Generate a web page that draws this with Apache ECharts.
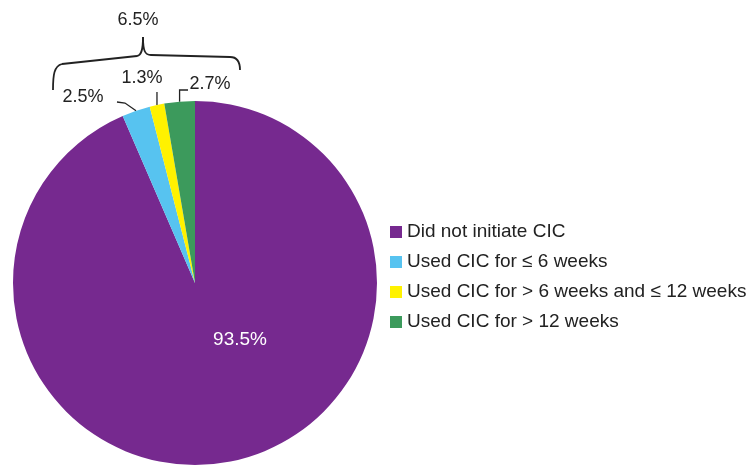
<!DOCTYPE html>
<html>
<head>
<meta charset="utf-8">
<script src="https://cdn.jsdelivr.net/npm/echarts@6/dist/echarts.min.js"></script>
<style>
  html, body { margin: 0; padding: 0; background: #fff; }
  #chart { width: 749px; height: 466px; }
</style>
</head>
<body>
<div id="chart"></div>
<script>
// Share of patients by CIC use
const categories = [
  'Did not initiate CIC',
  'Used CIC for ≤ 6 weeks',
  'Used CIC for > 6 weeks and ≤ 12 weeks',
  'Used CIC for > 12 weeks'
];
const shares = [93.5, 2.5, 1.3, 2.7];
const colors = ['#76298F', '#57C3F0', '#FFF200', '#3C9A5C'];

// Combined share of everyone who used CIC
const usedTotal = shares.slice(1).reduce((a, b) => a + b, 0);

const CX = 195, CY = 283, R = 182;
const FONT = 'Liberation Sans, Arial, sans-serif';
const INK = '#222';

// Point on the pie rim at the middle of slice i (clockwise from 12 o'clock)
const total = shares.reduce((a, b) => a + b, 0);
function rimPoint(i) {
  const before = shares.slice(0, i).reduce((a, b) => a + b, 0);
  const ang = (before + shares[i] / 2) / total * 2 * Math.PI;
  return [CX + R * Math.sin(ang), CY - R * Math.cos(ang)];
}

// Where each percentage label sits
const labelSpots = [[240, 340], [83, 97], [142, 78], [210, 84]];

const p1 = rimPoint(1), p2 = rimPoint(2), p3 = rimPoint(3);
const leaderStyle = { stroke: INK, lineWidth: 1.3, fill: null };
const braceStyle = { stroke: INK, lineWidth: 1.8, fill: null };

function curve(x1, y1, cpx1, cpy1, cpx2, cpy2, x2, y2) {
  return { type: 'bezierCurve', shape: { x1, y1, cpx1, cpy1, cpx2, cpy2, x2, y2 }, style: braceStyle, silent: true };
}
function seg(x1, y1, x2, y2) {
  return { type: 'line', shape: { x1, y1, x2, y2 }, style: braceStyle, silent: true };
}

const chart = echarts.init(document.getElementById('chart'));
chart.setOption({
  animation: false,
  color: colors,
  legend: {
    orient: 'vertical',
    left: 385,
    top: 217,
    itemWidth: 12,
    itemHeight: 12,
    itemGap: 10,
    icon: 'rect',
    textStyle: { fontFamily: FONT, fontSize: 19, color: INK, lineHeight: 20 },
    data: categories
  },
  series: [{
    type: 'pie',
    center: [CX, CY],
    radius: R,
    startAngle: 90,
    clockwise: true,
    avoidLabelOverlap: false,
    itemStyle: { borderWidth: 0 },
    emphasis: { disabled: true },
    label: {
      show: true,
      formatter: p => p.value.toFixed(1) + '%',
      fontFamily: FONT,
      fontSize: 18,
      color: INK
    },
    labelLine: { show: false },
    labelLayout: p => ({
      x: labelSpots[p.dataIndex][0],
      y: labelSpots[p.dataIndex][1],
      align: 'center',
      verticalAlign: 'middle'
    }),
    data: categories.map((name, i) => ({
      name,
      value: shares[i],
      label: i === 0 ? { position: 'inside', color: '#fff', fontSize: 19 } : {}
    }))
  }],
  graphic: [
    // leader lines
    { type: 'polyline', shape: { points: [p1, [125, 103], [117, 102]] }, style: leaderStyle, silent: true },
    { type: 'polyline', shape: { points: [p2, [p2[0], 92]] }, style: leaderStyle, silent: true },
    { type: 'polyline', shape: { points: [p3, [p3[0], 90], [188, 90]] }, style: leaderStyle, silent: true },
    // brace grouping the three CIC slices
    curve(53, 90, 53, 75, 54, 66, 62, 64),
    seg(62, 64, 137, 56),
    curve(137, 56, 141, 55.5, 143, 51, 143, 37),
    curve(143, 37, 143, 51, 145, 55, 151, 55),
    seg(151, 55, 230, 57),
    curve(230, 57, 237, 57, 240, 62, 240, 70),
    {
      type: 'text',
      x: 138, y: 20,
      style: {
        text: usedTotal.toFixed(1) + '%',
        fontFamily: FONT, fontSize: 18, fill: INK,
        align: 'center', verticalAlign: 'middle'
      },
      silent: true
    }
  ]
});
</script>
</body>
</html>
